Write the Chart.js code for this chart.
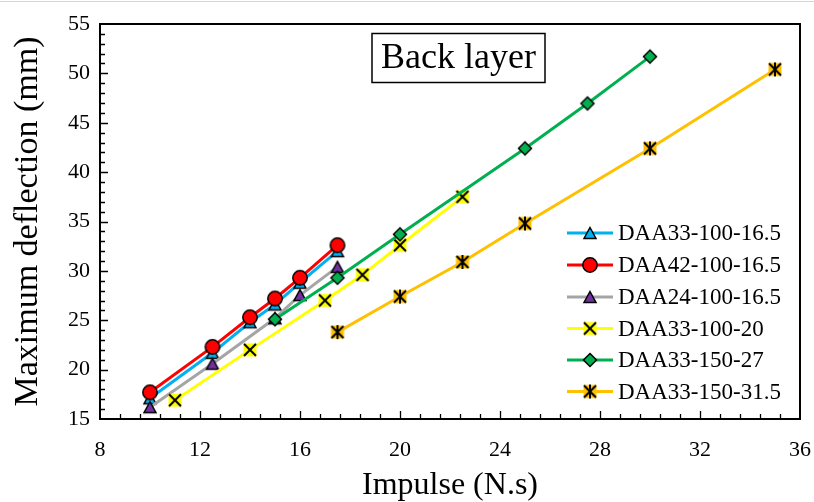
<!DOCTYPE html>
<html>
<head>
<meta charset="utf-8">
<script src="https://cdn.jsdelivr.net/npm/chart.js@4"></script>
<style>
  body { margin: 0; background: #fff; }
  canvas { display: block; }
</style>
</head>
<body>
<canvas id="myChart" width="814" height="502"></canvas>
<script>
// impulse values (N.s) for each specimen
var impulse165 = [10, 12.5, 14, 15, 16, 17.5];
var impulse24 = [10, 12.5, 15, 16, 17.5];
var impulse20 = [11, 14, 17, 18.5, 20, 22.5];
var impulse27 = [15, 17.5, 20, 25, 27.5, 30];
var impulse315 = [17.5, 20, 22.5, 25, 30, 35];

// maximum deflection (mm)
var daa33_100_165 = [17.1, 21.7, 24.8, 26.6, 28.8, 32.0];
var daa42_100_165 = [17.7, 22.3, 25.3, 27.2, 29.3, 32.6];
var daa24_100_165 = [16.2, 20.6, 25.2, 27.55, 30.4];
var daa33_100_20 = [16.9, 22.0, 27.0, 29.6, 32.6, 37.5];
var daa33_150_27 = [25.1, 29.3, 33.7, 42.4, 46.95, 51.7];
var daa33_150_315 = [23.8, 27.4, 30.9, 34.8, 42.4, 50.4];

var seriesNames = ['DAA33-100-16.5', 'DAA42-100-16.5', 'DAA24-100-16.5',
                   'DAA33-100-20', 'DAA33-150-27', 'DAA33-150-31.5'];

var xTicks = { min: 8, max: 36, step: 4, minor: 0.8 };
var yTicks = { min: 15, max: 55, step: 5, minor: 1 };

var FONT = "'Liberation Serif', 'Times New Roman', serif";

// small canvases used as marker images
function makeMarker(kind, fill) {
    var c = document.createElement('canvas');
    c.width = 18; c.height = 18;
    var g = c.getContext('2d');
    g.lineWidth = 1.5;
    g.strokeStyle = '#000';
    g.fillStyle = fill;
    g.beginPath();
    if (kind == 'triangle') {
        g.moveTo(9, 3.5); g.lineTo(15, 14.5); g.lineTo(3, 14.5); g.closePath();
        g.fill(); g.stroke();
    } else if (kind == 'circle') {
        g.arc(9, 9, 7.2, 0, Math.PI * 2);
        g.fill(); g.stroke();
    } else if (kind == 'diamond') {
        g.moveTo(9, 2.5); g.lineTo(15.5, 9); g.lineTo(9, 15.5); g.lineTo(2.5, 9); g.closePath();
        g.fill(); g.stroke();
    } else {
        g.fillRect(2.5, 2.5, 13, 13);
        g.lineWidth = 2;
        g.moveTo(3, 3); g.lineTo(15, 15);
        g.moveTo(15, 3); g.lineTo(3, 15);
        if (kind == 'star') { g.moveTo(9, 2); g.lineTo(9, 16); }
        g.stroke();
    }
    return c;
}

function toPoints(xs, ys) {
    return xs.map(function(x, i) { return { x: x, y: ys[i] }; });
}

function series(i, xs, ys, color, marker) {
    return {
        label: seriesNames[i],
        data: toPoints(xs, ys),
        showLine: true,
        borderColor: color,
        backgroundColor: color,
        borderWidth: 3,
        pointStyle: marker,
        pointRadius: 8,
        pointHoverRadius: 8,
        clip: false,
        order: 5 - i // later series are painted on top
    };
}

// inward tick marks, top/right frame, boxed caption and legend
var decorations = {
    id: 'decorations',
    afterDraw: function(chart) {
        var ctx = chart.ctx;
        var a = chart.chartArea;
        var xs = chart.scales.x, ys = chart.scales.y;
        ctx.save();
        // thin outer edge of the figure
        ctx.strokeStyle = '#d4d4d4';
        ctx.lineWidth = 1;
        ctx.beginPath();
        ctx.moveTo(0, 1.5); ctx.lineTo(chart.width, 1.5);
        ctx.stroke();

        ctx.strokeStyle = '#000';
        ctx.lineWidth = 2;
        ctx.strokeRect(a.left, a.top, a.right - a.left, a.bottom - a.top);

        ctx.lineWidth = 1.3;
        ctx.beginPath();
        var n = Math.round((xTicks.max - xTicks.min) / xTicks.minor);
        for (var i = 1; i < n; i++) {
            var v = xTicks.min + i * xTicks.minor;
            var px = Math.round(xs.getPixelForValue(v)) + 0.5;
            var len = (i % 5 == 0) ? 8 : 5;
            ctx.moveTo(px, a.bottom); ctx.lineTo(px, a.bottom - len);
        }
        n = Math.round((yTicks.max - yTicks.min) / yTicks.minor);
        for (var j = 1; j < n; j++) {
            var w = yTicks.min + j * yTicks.minor;
            var py = Math.round(ys.getPixelForValue(w)) + 0.5;
            var l2 = (j % 5 == 0) ? 8 : 5;
            ctx.moveTo(a.left, py); ctx.lineTo(a.left + l2, py);
        }
        ctx.stroke();

        // caption box
        ctx.lineWidth = 1.5;
        ctx.strokeRect(372, 33.5, 173, 49);
        ctx.fillStyle = '#000';
        ctx.font = '36px ' + FONT;
        ctx.textAlign = 'center';
        ctx.textBaseline = 'middle';
        ctx.fillText('Back layer', 458.5, 59);

        // legend
        var rowY = [233, 265, 297, 328.5, 360, 391.5];
        ctx.font = '23px ' + FONT;
        ctx.textAlign = 'left';
        chart.data.datasets.forEach(function(ds, k) {
            var y = rowY[k];
            ctx.strokeStyle = ds.borderColor;
            ctx.lineWidth = 3;
            ctx.beginPath();
            ctx.moveTo(567, y); ctx.lineTo(613, y);
            ctx.stroke();
            ctx.drawImage(ds.pointStyle, 590 - 9, y - 9);
            ctx.fillStyle = '#000';
            ctx.fillText(ds.label, 618, y + 1);
        });
        ctx.restore();
    }
};

var chartInstance = new Chart(document.getElementById('myChart').getContext('2d'), {
    type: 'scatter',
    data: {
        datasets: [
            series(0, impulse165, daa33_100_165, '#00B0F0', makeMarker('triangle', '#00B0F0')),
            series(1, impulse165, daa42_100_165, '#FF0000', makeMarker('circle', '#FF0000')),
            series(2, impulse24, daa24_100_165, '#A5A5A5', makeMarker('triangle', '#7030A0')),
            series(3, impulse20, daa33_100_20, '#FFFF00', makeMarker('cross', '#FFFF00')),
            series(4, impulse27, daa33_150_27, '#00B050', makeMarker('diamond', '#00B050')),
            series(5, impulse315, daa33_150_315, '#FFC000', makeMarker('star', '#FFC000'))
        ]
    },
    options: {
        responsive: false,
        animation: false,
        layout: { padding: { left: 0, right: 14, top: 24, bottom: 0 } },
        plugins: { legend: { display: false }, tooltip: { enabled: false } },
        scales: {
            x: {
                type: 'linear',
                min: xTicks.min,
                max: xTicks.max,
                afterFit: function(s) {
                    s.height = 83;
                    s.paddingLeft = 0; s.paddingRight = 0;
                },
                grid: { display: false, drawTicks: false },
                border: { display: true, color: '#000', width: 2 },
                ticks: { stepSize: xTicks.step, padding: 18, color: '#000', font: { family: FONT, size: 22 } },
                title: {
                    display: true,
                    text: 'Impulse (N.s)',
                    color: '#000',
                    font: { family: FONT, size: 32, lineHeight: 1 },
                    padding: { top: 0, bottom: 0 }
                }
            },
            y: {
                type: 'linear',
                min: yTicks.min,
                max: yTicks.max,
                afterFit: function(s) {
                    s.width = 100;
                    s.paddingTop = 0; s.paddingBottom = 0;
                },
                grid: { display: false, drawTicks: false },
                border: { display: true, color: '#000', width: 2 },
                ticks: { stepSize: yTicks.step, padding: 10, color: '#000', font: { family: FONT, size: 22 } },
                title: {
                    display: true,
                    text: 'Maximum deflection (mm)',
                    color: '#000',
                    font: { family: FONT, size: 34, lineHeight: 1 },
                    padding: { top: 11, bottom: 0 }
                }
            }
        }
    },
    plugins: [decorations]
});
</script>
</body>
</html>
